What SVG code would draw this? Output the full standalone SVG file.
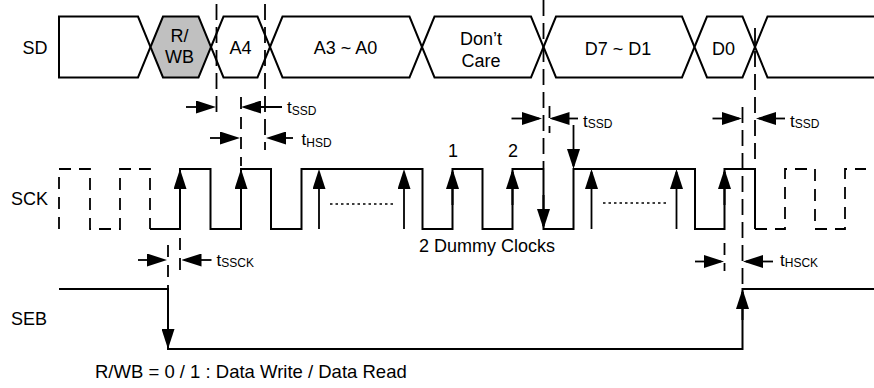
<svg xmlns="http://www.w3.org/2000/svg" width="874" height="388" viewBox="0 0 874 388">
<style>
text{font-family:"Liberation Sans",Arial,sans-serif;fill:#000}
.lbl{font-size:18px}
.mid{text-anchor:middle}
.end{text-anchor:end}
.t{font-size:17px}
.sub{font-size:12px}
.wave{fill:none;stroke:#000;stroke-width:2;stroke-linejoin:miter}
.box{fill:#fff;stroke:#000;stroke-width:2;stroke-linejoin:miter}
.gray{fill:#c0c0c0}
.dash{fill:none;stroke:#000;stroke-width:1.8;stroke-dasharray:16 7}
.sdash{fill:none;stroke:#000;stroke-width:1.8;stroke-dasharray:12 8}
.dot{fill:none;stroke:#000;stroke-width:1.6;stroke-dasharray:2.5 3}
.arr{fill:none;stroke:#000;stroke-width:1.8;marker-end:url(#ah)}
.head{fill:none;stroke:#000;stroke-width:2;marker-end:url(#ah)}
</style>
<defs>
<marker id="ah" markerUnits="userSpaceOnUse" markerWidth="20" markerHeight="13" viewBox="0 0 20 13" refX="17" refY="6.5" orient="auto"><path d="M0,0 L20,6.5 L0,13 z" fill="#000"/></marker>
</defs>
<rect width="874" height="388" fill="#fff"/>

<g id="signal-labels">
<text class="lbl end" x="47.5" y="53.5">SD</text>
<text class="lbl end" x="48" y="205">SCK</text>
<text class="lbl end" x="47" y="325">SEB</text>
</g>

<g id="sd-idle-start">
<polygon class="box" points="59,16.5 138,16.5 150.5,47 138,77.5 59,77.5"/>
</g>
<g id="sd-rwb">
<polygon class="box gray" points="150.5,47 163,16.5 198.5,16.5 211,47 198.5,77.5 163,77.5"/>
<text class="lbl mid" x="179.5" y="41.5">R/</text>
<text class="lbl mid" x="179.5" y="63">WB</text>
</g>
<g id="sd-a4">
<polygon class="box" points="211,47 223.5,16.5 257.5,16.5 270,47 257.5,77.5 223.5,77.5"/>
<text class="lbl mid" x="240.5" y="54">A4</text>
</g>
<g id="sd-a3a0">
<polygon class="box" points="270,47 282.5,16.5 409.5,16.5 422,47 409.5,77.5 282.5,77.5"/>
<text class="lbl mid" x="345.5" y="54">A3 ~ A0</text>
</g>
<g id="sd-dontcare">
<polygon class="box" points="422,47 434.5,16.5 531,16.5 543.5,47 531,77.5 434.5,77.5"/>
<text class="lbl mid" x="481" y="45">Don’t</text>
<text class="lbl mid" x="481" y="66.5">Care</text>
</g>
<g id="sd-d7d1">
<polygon class="box" points="543.5,47 556,16.5 682,16.5 694.5,47 682,77.5 556,77.5"/>
<text class="lbl mid" x="618" y="55">D7 ~ D1</text>
</g>
<g id="sd-d0">
<polygon class="box" points="694.5,47 707,16.5 742.5,16.5 755,47 742.5,77.5 707,77.5"/>
<text class="lbl mid" x="723.5" y="55">D0</text>
</g>
<g id="sd-idle-end">
<polyline class="wave" points="876,16.5 767.5,16.5 755,47 767.5,77.5 876,77.5"/>
</g>

<g id="sck">
<path class="sdash" d="M59,229 V169 H90 V229 H120 V169 H150 V229"/>
<path class="wave" d="M150,229 H180 V169 H210.5 V229 H241 V169 H271 V229 H301.5 V169 H422.5 V229 H452.5 V169 H482.5 V229 H512.5 V169 H543.5 V229 H573.5 V169 H695 V229 H724.5 V169 H755 V229"/>
<path class="sdash" d="M755,229 H785 V169 H815 V229 H845 V169 H866"/>
<path class="head" d="M180,205 V172"/>
<path class="head" d="M241,205 V172"/>
<path class="head" d="M452.5,205 V172"/>
<path class="head" d="M512.5,205 V172"/>
<path class="head" d="M724.5,205 V172"/>
<path class="head" d="M543.5,195 V226"/>
<path class="arr" d="M319,229 V172"/>
<path class="arr" d="M404,229 V172"/>
<path class="arr" d="M591.5,229 V172"/>
<path class="arr" d="M676.5,229 V172"/>
<path class="dot" d="M330,204 H394"/>
<path class="dot" d="M603,203 H666"/>
<text class="lbl mid" x="453" y="157">1</text>
<text class="lbl mid" x="513" y="157">2</text>
<text class="lbl mid" x="487" y="251.5">2 Dummy Clocks</text>
</g>

<g id="seb">
<path class="wave" d="M59,289 H168 V349 H742.5 V289 H876"/>
<path class="head" d="M168,320 V346"/>
<path class="head" d="M742.5,320 V292"/>
</g>

<g id="connectors">
<path class="dash" d="M216.5,4 V113"/>
<path class="dash" d="M265,4 V150"/>
<path class="sdash" d="M241,97 V166"/>
<path class="dash" d="M543.5,0 V168"/>
<path class="sdash" d="M549.5,106 V133"/>
<path class="dash" d="M755,28 V162"/>
<path class="dash" d="M742.5,107 V289"/>
<path class="sdash" d="M180,238 V271"/>
<path class="sdash" d="M168,245 V289"/>
<path class="sdash" d="M724.5,243 V271"/>

<path class="arr" d="M186,107 H213"/>
<path class="arr" d="M282,107 H244"/>
<text class="t" x="287" y="113">t<tspan class="sub" dy="2">SSD</tspan></text>

<path class="arr" d="M210,138 H237"/>
<path class="arr" d="M293,138 H269"/>
<text class="t" x="301.5" y="145">t<tspan class="sub" dy="2">HSD</tspan></text>

<path class="arr" d="M511.5,118.5 H539"/>
<path class="arr" d="M578,118.5 H552.5"/>
<path class="arr" d="M573.5,125 V166"/>
<text class="t" x="583" y="127">t<tspan class="sub" dy="1">SSD</tspan></text>

<path class="arr" d="M712.5,118.5 H739"/>
<path class="arr" d="M785,118.5 H759"/>
<text class="t" x="790" y="127">t<tspan class="sub" dy="1">SSD</tspan></text>

<path class="arr" d="M138,260 H164"/>
<path class="arr" d="M211.5,260 H184.5"/>
<text class="t" x="216.5" y="266">t<tspan class="sub" dy="1">SSCK</tspan></text>

<path class="arr" d="M695,261.5 H721"/>
<path class="arr" d="M773,261.5 H746"/>
<text class="t" x="780" y="266">t<tspan class="sub" dy="1">HSCK</tspan></text>
</g>

<g id="note">
<text x="95" y="378" style="font-size:18.5px">R/WB = 0 / 1 : Data Write / Data Read</text>
</g>
</svg>
